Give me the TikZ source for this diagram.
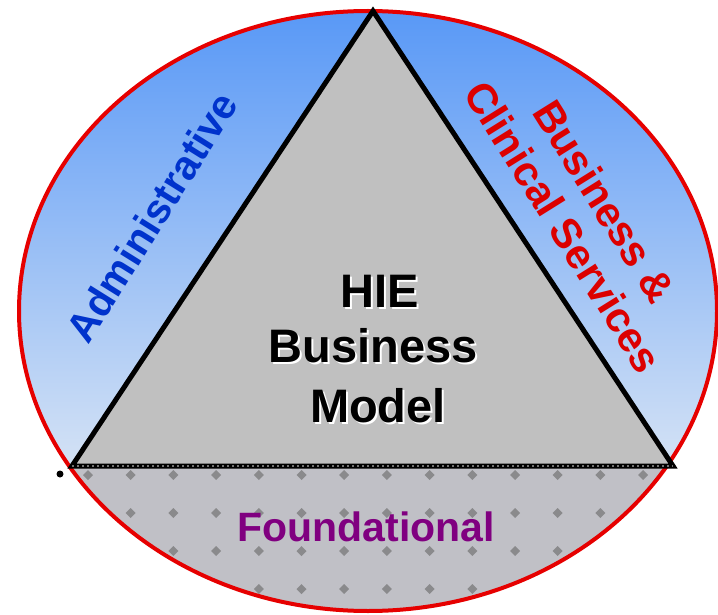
\documentclass[tikz,border=0pt]{standalone}
\usepackage{fontspec}
\setmainfont{Liberation Sans}
\definecolor{skytop}{RGB}{88,152,246}
\definecolor{skybot}{RGB}{212,226,245}
\definecolor{rimred}{RGB}{230,0,0}
\definecolor{floorgray}{RGB}{192,192,198}
\definecolor{dotgray}{RGB}{138,138,140}
\definecolor{trigray}{RGB}{192,192,192}
\definecolor{adminblue}{RGB}{0,51,204}
\definecolor{servred}{RGB}{220,0,0}
\definecolor{foundpurple}{RGB}{128,0,128}
\newcommand{\shadowed}[1]{\makebox[0pt][l]{\hspace{2pt}\raisebox{-2pt}{\textcolor{white}{#1}}}#1}
\tikzset{
  sidetext/.style={font=\bfseries\fontsize{41}{47}\selectfont, inner sep=0pt, align=center},
  centertext/.style={font=\bfseries\fontsize{47}{57}\selectfont, inner sep=0pt, anchor=base},
  tri/.style={draw=black, line width=5pt, line join=miter, fill=trigray},
}
\begin{document}
\begin{tikzpicture}[x=1pt,y=-1pt]
\useasboundingbox (0,0) rectangle (718,615);
\clip (0,0) rectangle (718,615);
% ellipse interior
\begin{scope}
  \clip (368,311) ellipse [x radius=349pt, y radius=300pt];
  \shade[top color=skytop, bottom color=skybot] (0,8) rectangle (718,466);
  \fill[floorgray] (0,466) rectangle (718,615);
  \foreach \i in {0,...,17} \foreach \j in {0,...,3}
    \fill[dotgray] ({2.6+42.7*\i-5},{475+38*\j}) -- ++(5,-5) -- ++(5,5) -- ++(-5,5) -- cycle;
\end{scope}
% rim
\draw[rimred, line width=4pt] (368,311) ellipse [x radius=349pt, y radius=300pt];
% triangle
\coordinate (apex) at (373,11);
\coordinate (bl) at (72,466);
\coordinate (br) at (673,466);
\draw[tri] (apex) -- (br) -- (bl) -- cycle;
\draw[black!55, line width=1.5pt, dash pattern=on 2pt off 3pt] (bl) -- (br);
\fill[black] (60,474) circle [radius=3.5pt];
% side labels
\node[sidetext, text=adminblue, rotate=58] (admin) at (152,217) {Administrative};
\node[sidetext, text=servred, rotate=-58, font=\bfseries\fontsize{42}{48}\selectfont] (serv) at (584,214) {Business \&\\Clinical Services};
\node[sidetext, text=foundpurple] (found) at (366,527) {Foundational};
% center label with white shadow
\node[centertext] (hie) at (380,307) {\shadowed{HIE}};
\node[centertext] (bus) at (373,362) {\shadowed{Business}};
\node[centertext] (mod) at (378,422) {\shadowed{Model}};
\end{tikzpicture}
\end{document}
